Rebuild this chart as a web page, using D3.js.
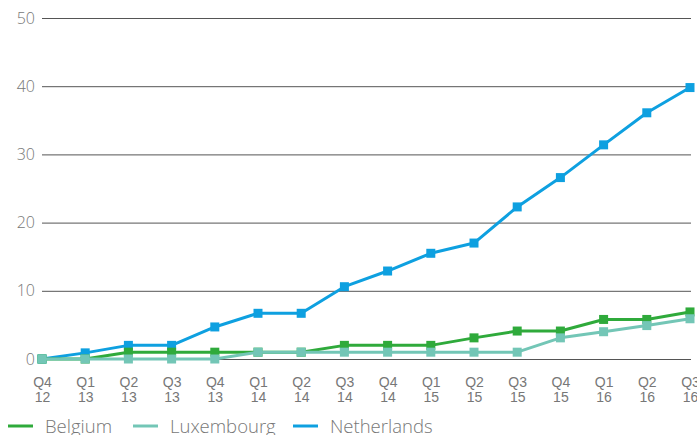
<!DOCTYPE html>
<html>
<head>
<meta charset="utf-8">
<script src="https://cdn.jsdelivr.net/npm/d3@7"></script>
<style>
  html, body { margin: 0; padding: 0; background: #fff; }
  svg { display: block; font-family: "Open Sans", sans-serif; font-weight: 300; }
</style>
</head>
<body>
<svg id="chart" width="697" height="435"></svg>
<script>
const categories = ["Q4 12","Q1 13","Q2 13","Q3 13","Q4 13","Q1 14","Q2 14","Q3 14","Q4 14","Q1 15","Q2 15","Q3 15","Q4 15","Q1 16","Q2 16","Q3 16"];
const belgium     = [0, 0, 1, 1, 1, 1, 1, 2, 2, 2, 3.1, 4.1, 4.1, 5.8, 5.8, 6.9];
const luxembourg  = [0, 0, 0, 0, 0, 1, 1, 1, 1, 1, 1, 1, 3.1, 4.0, 4.9, 5.9];
const netherlands = [0, 0.9, 2, 2, 4.7, 6.7, 6.7, 10.6, 12.9, 15.5, 17, 22.3, 26.6, 31.4, 36.1, 39.8];
const yTicks = [0, 10, 20, 30, 40, 50];
const seriesNames = ["Belgium", "Luxembourg", "Netherlands"];

const colors = { Belgium: "#2faa3b", Luxembourg: "#73c6b6", Netherlands: "#0ea0e0" };
const valuesByName = { Belgium: belgium, Luxembourg: luxembourg, Netherlands: netherlands };
const drawOrder = ["Netherlands", "Belgium", "Luxembourg"];

const svg = d3.select("#chart");
const x = d3.scalePoint().domain(categories).range([42, 690]);
const y = d3.scaleLinear().domain([0, 50]).range([359, 18]);

// gridlines + y labels
const yAxis = d3.axisLeft(y).tickValues(yTicks).tickSize(-649).tickPadding(7).tickFormat(d3.format("d"));
const gy = svg.append("g").attr("transform", "translate(42,0)").call(yAxis);
gy.select(".domain").remove();
gy.selectAll(".tick line").attr("stroke", "#555").attr("stroke-width", 1);
gy.selectAll(".tick text").attr("fill", "#777").attr("font-size", 16)
  .attr("font-family", "'Open Sans', sans-serif").attr("font-weight", 300).attr("x", -7);

// x labels (two lines)
const xAxis = d3.axisBottom(x).tickSize(0).tickFormat(() => "");
const gx = svg.append("g").attr("transform", "translate(0,359)").call(xAxis);
gx.select(".domain").remove();
gx.selectAll(".tick").each(function(d) {
  const parts = d.split(" ");
  const t = d3.select(this).append("text")
    .attr("fill", "#777").attr("font-size", 14).attr("text-anchor", "middle");
  t.append("tspan").attr("x", 0).attr("y", 28).text(parts[0]);
  t.append("tspan").attr("x", 0).attr("y", 43).text(parts[1]);
});

// lines and markers
const line = d3.line().x((d, i) => x(categories[i])).y(d => y(d));
drawOrder.forEach(name => {
  const vals = valuesByName[name];
  const g = svg.append("g");
  g.append("path").datum(vals).attr("d", line)
    .attr("fill", "none").attr("stroke", colors[name]).attr("stroke-width", 3)
    .attr("stroke-linejoin", "round");
  g.selectAll("rect").data(vals).join("rect")
    .attr("x", (d, i) => x(categories[i]) - 4.5)
    .attr("y", d => y(d) - 4.5)
    .attr("width", 9).attr("height", 9)
    .attr("fill", colors[name]);
});

// legend
const legX = [8, 133, 293];
seriesNames.forEach((name, i) => {
  const g = svg.append("g").attr("transform", `translate(${legX[i]},426)`);
  g.append("line").attr("x1", 0).attr("x2", 25).attr("y1", 0).attr("y2", 0)
    .attr("stroke", colors[name]).attr("stroke-width", 3);
  g.append("text").attr("x", 37).attr("y", 6.5).attr("fill", "#777")
    .attr("font-size", 18.5).text(name);
});
</script>
</body>
</html>
